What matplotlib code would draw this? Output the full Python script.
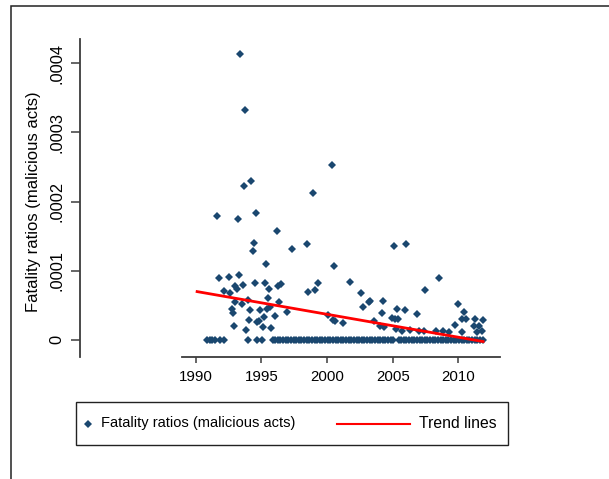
import matplotlib
matplotlib.use('Agg')
import matplotlib.pyplot as plt
from matplotlib.patches import Rectangle
from matplotlib.lines import Line2D

plt.rcParams['font.family'] = ['Liberation Sans', 'DejaVu Sans']

# non-zero monthly fatality ratios (year, ratio)
years = [1993.40, 1993.75, 2000.36, 1994.23, 1993.66, 1998.93, 1994.59, 1991.65, 1993.24, 1996.17,
         1994.42, 1998.50, 2006.02, 2005.10, 1997.33, 1994.34, 1995.33, 2000.51, 2008.53, 1991.80,
         1992.56, 1993.32, 1992.13, 1992.64, 1992.97, 1993.15, 1993.58, 1994.49, 1995.26, 1995.58,
         1996.25, 1996.50, 1993.02, 1993.50, 1993.98, 1995.51, 1992.74, 1992.84, 1994.16, 1994.92,
         1995.41, 1995.66, 1996.32, 1996.02, 1995.18, 1994.06, 1994.65, 1994.80, 1996.93, 1992.89,
         1995.10, 1995.76, 1993.83, 1998.58, 1999.09, 1999.34, 2000.10, 2000.48, 2000.63, 2001.75,
         2002.59, 2002.76, 2003.20, 2003.30, 2004.27, 2004.19, 2003.60, 2004.04, 2004.34, 2001.24,
         2007.44, 2005.33, 2005.94, 2004.97, 2005.18, 2005.43, 2006.83, 2005.23, 2005.69, 2006.32,
         2007.03, 2007.36, 2008.30, 2008.86, 2009.29, 2009.75, 2009.95, 2010.43, 2010.30, 2010.59,
         2011.27, 2011.20, 2011.58, 2011.45, 2010.28, 2011.88, 2011.78]
ratios = [4.14e-4, 3.33e-4, 2.53e-4, 2.30e-4, 2.22e-4, 2.12e-4, 1.83e-4, 1.79e-4, 1.74e-4, 1.57e-4,
          1.40e-4, 1.39e-4, 1.39e-4, 1.35e-4, 1.31e-4, 1.28e-4, 1.09e-4, 1.07e-4, 0.90e-4, 0.90e-4,
          0.91e-4, 0.93e-4, 0.70e-4, 0.68e-4, 0.78e-4, 0.74e-4, 0.79e-4, 0.82e-4, 0.82e-4, 0.73e-4,
          0.78e-4, 0.80e-4, 0.55e-4, 0.51e-4, 0.57e-4, 0.60e-4, 0.44e-4, 0.39e-4, 0.43e-4, 0.43e-4,
          0.45e-4, 0.47e-4, 0.55e-4, 0.35e-4, 0.33e-4, 0.28e-4, 0.26e-4, 0.27e-4, 0.40e-4, 0.20e-4,
          0.18e-4, 0.17e-4, 0.14e-4, 0.69e-4, 0.72e-4, 0.82e-4, 0.36e-4, 0.28e-4, 0.27e-4, 0.84e-4,
          0.68e-4, 0.47e-4, 0.54e-4, 0.56e-4, 0.56e-4, 0.39e-4, 0.27e-4, 0.20e-4, 0.18e-4, 0.24e-4,
          0.72e-4, 0.45e-4, 0.43e-4, 0.31e-4, 0.30e-4, 0.30e-4, 0.37e-4, 0.15e-4, 0.13e-4, 0.14e-4,
          0.13e-4, 0.12e-4, 0.12e-4, 0.12e-4, 0.11e-4, 0.21e-4, 0.51e-4, 0.40e-4, 0.30e-4, 0.30e-4,
          0.30e-4, 0.20e-4, 0.20e-4, 0.11e-4, 0.11e-4, 0.29e-4, 0.12e-4]

# months with a ratio of zero
zero_years = [1990.84, 1991.09, 1991.27, 1991.47, 1991.85, 1992.15, 1993.95, 1994.66, 1995.02,
              1995.86, 1996.05, 1996.25, 1996.45, 1996.65, 1996.85, 1997.05, 1997.25, 1997.45,
              1997.65, 1997.85, 1998.05, 1998.25, 1998.45, 1998.65, 1998.85, 1999.05, 1999.25,
              1999.45, 1999.65, 1999.85, 2000.05, 2000.25, 2000.45, 2000.65, 2000.85, 2001.05,
              2001.25, 2001.45, 2001.65, 2001.85, 2002.05, 2002.25, 2002.45, 2002.65, 2002.85,
              2003.05, 2003.25, 2003.45, 2003.65, 2003.85, 2004.05, 2004.25, 2004.45, 2004.65,
              2004.85, 2005.05, 2005.45, 2005.65, 2005.85, 2006.05, 2006.25, 2006.45, 2006.65,
              2006.85, 2007.05, 2007.25, 2007.45, 2007.65, 2007.85, 2008.05, 2008.25, 2008.45,
              2008.65, 2008.85, 2009.05, 2009.25, 2009.45, 2009.65, 2009.85, 2010.05, 2010.25,
              2010.45, 2010.65, 2010.85, 2011.05, 2011.25, 2011.45, 2011.65, 2011.86]
zero_ratios = [0.0] * len(zero_years)

# linear trend end points
trend_years = [1990, 2012]
trend_vals = [7.0e-5, -0.3e-5]

x_ticks = [1990, 1995, 2000, 2005, 2010]
y_ticks = [0, 0.0001, 0.0002, 0.0003, 0.0004]
y_tick_labels = ['0', '.0001', '.0002', '.0003', '.0004']

navy = '#1A476F'
axcol = '#3c3c3c'

fig = plt.figure(figsize=(6.09, 4.79), dpi=100)
ax = fig.add_axes([181.7 / 609, 1 - 357 / 479, (500 - 181.7) / 609, (357 - 39) / 479])

ax.plot(years, ratios, 'D', color=navy, markersize=3.6, markeredgewidth=0, linestyle='none')
ax.plot(zero_years, zero_ratios, 'D', color=navy, markersize=3.6, markeredgewidth=0, linestyle='none')
ax.plot(trend_years, trend_vals, color='red', linewidth=2.0, solid_capstyle='butt')

ax.set_xlim(1988.93, 2013.18)
ax.set_ylim(-0.000025, 0.0004352)

ax.spines['top'].set_visible(False)
ax.spines['right'].set_visible(False)
ax.spines['left'].set_position(('outward', 73.2))
for s in ['left', 'bottom']:
	ax.spines[s].set_color(axcol)
	ax.spines[s].set_linewidth(1.3)

ax.set_xticks(x_ticks)
ax.set_yticks(y_ticks)
ax.set_yticklabels(y_tick_labels, rotation=90, va='center')
ax.tick_params(axis='x', length=4.3, width=1.1, color=axcol, labelsize=10.8, pad=5)
ax.tick_params(axis='y', length=6.5, width=1.1, color=axcol, labelsize=11.8, pad=5)

fig.text(33.5 / 609, 1 - 202 / 479, 'Fatality ratios (malicious acts)', rotation=90,
	ha='center', va='center', fontsize=12)

# outer frame of the graph region
fig.add_artist(Rectangle((11 / 609, -0.1), 1.2, 1.1 - 6 / 479, transform=fig.transFigure,
	fill=False, edgecolor='#222222', linewidth=1.1))

# legend box drawn by hand (two keys spread across the box)
fig.add_artist(Rectangle((75.7 / 609, 1 - 445 / 479), 432 / 609, 42.7 / 479, transform=fig.transFigure,
	fill=False, edgecolor='#222222', linewidth=1.0))
ly = 1 - 423.5 / 479
fig.add_artist(Line2D([88 / 609], [ly], marker='D', color=navy, markersize=3.6, markeredgewidth=0,
	linestyle='none', transform=fig.transFigure))
fig.text(101 / 609, ly, 'Fatality ratios (malicious acts)', ha='left', va='center', fontsize=10.5)
fig.add_artist(Line2D([336.7 / 609, 410 / 609], [ly, ly], color='red', linewidth=1.5,
	transform=fig.transFigure))
fig.text(419 / 609, ly, 'Trend lines', ha='left', va='center', fontsize=11.3)

plt.savefig('out.png', dpi=100)
